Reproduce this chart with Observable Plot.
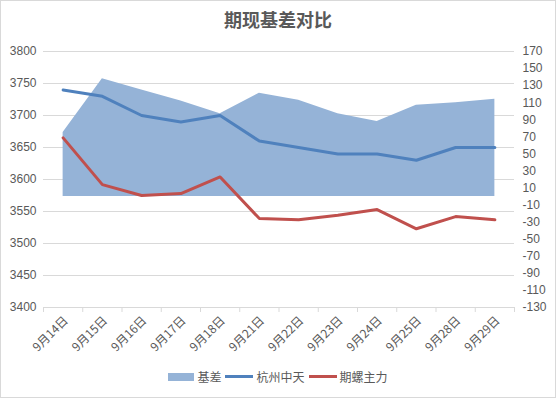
<!DOCTYPE html>
<html>
<head>
<meta charset="utf-8">
<script src="https://cdn.jsdelivr.net/npm/d3@7"></script>
<script src="https://cdn.jsdelivr.net/npm/@observablehq/plot@0.6"></script>
<style>
  body { margin: 0; background: #fff; font-family: "Noto Sans CJK SC", "Liberation Sans", sans-serif; }
  #wrap { position: relative; width: 556px; height: 398px; overflow: hidden; }
  #frame { position: absolute; left: 0; top: 0; width: 554px; height: 396px; border: 1px solid #d9d9d9; }
  #title { position: absolute; left: 0; right: 0; top: 6px; text-align: center; font-size: 18px; font-weight: bold; color: #595959; }
  #chart { position: absolute; left: 0; top: 0; }
  #legend { position: absolute; left: 0; right: 0; top: 368px; display: flex; justify-content: center; align-items: center; font-size: 12px; color: #595959; gap: 0; }
  .sw { display: inline-block; margin-right: 3px; }
  .item { display: flex; align-items: center; margin: 0 2px; }
</style>
</head>
<body>
<div id="wrap">
  <div id="frame"></div>
  <div id="chart"></div>
  <div id="title">期现基差对比</div>
  <div id="legend"></div>
</div>
<script>
const dates = ["9月14日","9月15日","9月16日","9月17日","9月18日","9月21日","9月22日","9月23日","9月24日","9月25日","9月28日","9月29日"];
const spot = [3740,3730,3700,3690,3700,3660,3650,3640,3640,3630,3650,3650];       // 杭州中天 (left axis)
const futures = [3665,3592,3575,3578,3604,3539,3537,3544,3553,3523,3542,3537];    // 期螺主力 (left axis)
const basis = [75,138,125,112,97,121,113,97,88,107,110,114];                       // 基差 (right axis)
const leftTicks = [3400,3450,3500,3550,3600,3650,3700,3750,3800];
const rightTicks = [-130,-110,-90,-70,-50,-30,-10,10,30,50,70,90,110,130,150,170];
const seriesNames = ["基差","杭州中天","期螺主力"];
const colors = ["#95B3D7","#4F81BD","#C0504D"];

// map right-axis values onto the left-axis scale
const toLeft = v => 3400 + (v + 130) * 400 / 300;
const fromLeft = d => String(Math.round((d - 3400) * 300 / 400 - 130));

const idx = d3.range(dates.length);

const chart = Plot.plot({
  width: 556,
  height: 360,
  marginTop: 51,
  marginBottom: 53,
  marginLeft: 43,
  marginRight: 42,
  x: {domain: [-0.5, dates.length - 0.5]},
  y: {domain: [3400, 3800]},
  style: {fontSize: "12px", fontFamily: "'Liberation Sans', 'Noto Sans CJK SC', sans-serif", color: "#595959", background: "transparent"},
  marks: [
    Plot.gridY(leftTicks, {stroke: "#d9d9d9", strokeOpacity: 1}),
    Plot.areaY(idx, {x: i => i, y1: () => toLeft(0), y2: i => toLeft(basis[i]), fill: colors[0], fillOpacity: 1}),
    Plot.lineY(idx, {x: i => i, y: i => spot[i], stroke: colors[1], strokeWidth: 3}),
    Plot.lineY(idx, {x: i => i, y: i => futures[i], stroke: colors[2], strokeWidth: 3}),
    Plot.axisY(leftTicks, {anchor: "left", tickSize: 0, tickPadding: 7, tickFormat: d => String(d), label: null}),
    Plot.axisY(rightTicks.map(toLeft), {anchor: "right", tickSize: 0, tickPadding: 8, tickFormat: fromLeft, label: null}),
    Plot.axisX(idx, {tickSize: 0, tickPadding: 11, dx: 3, tickRotate: -45, tickFormat: i => dates[i], label: null, fontFamily: "'Noto Sans CJK SC', sans-serif"}),
    Plot.axisX(d3.range(dates.length + 1).map(i => i - 0.5), {tickSize: 5, tickFormat: () => "", stroke: "#d9d9d9", strokeOpacity: 1, label: null}),
    Plot.ruleY([3400], {stroke: "#d9d9d9"})
  ]
});
document.getElementById("chart").appendChild(chart);

const legend = document.getElementById("legend");
seriesNames.forEach((name, k) => {
  const item = document.createElement("span");
  item.className = "item";
  const sw = document.createElement("span");
  sw.className = "sw";
  if (k === 0) { sw.style.width = "26px"; sw.style.height = "8px"; }
  else { sw.style.width = "28px"; sw.style.height = "3px"; }
  sw.style.background = colors[k];
  item.appendChild(sw);
  const t = document.createElement("span");
  t.textContent = name;
  item.appendChild(t);
  legend.appendChild(item);
});
</script>
</body>
</html>
